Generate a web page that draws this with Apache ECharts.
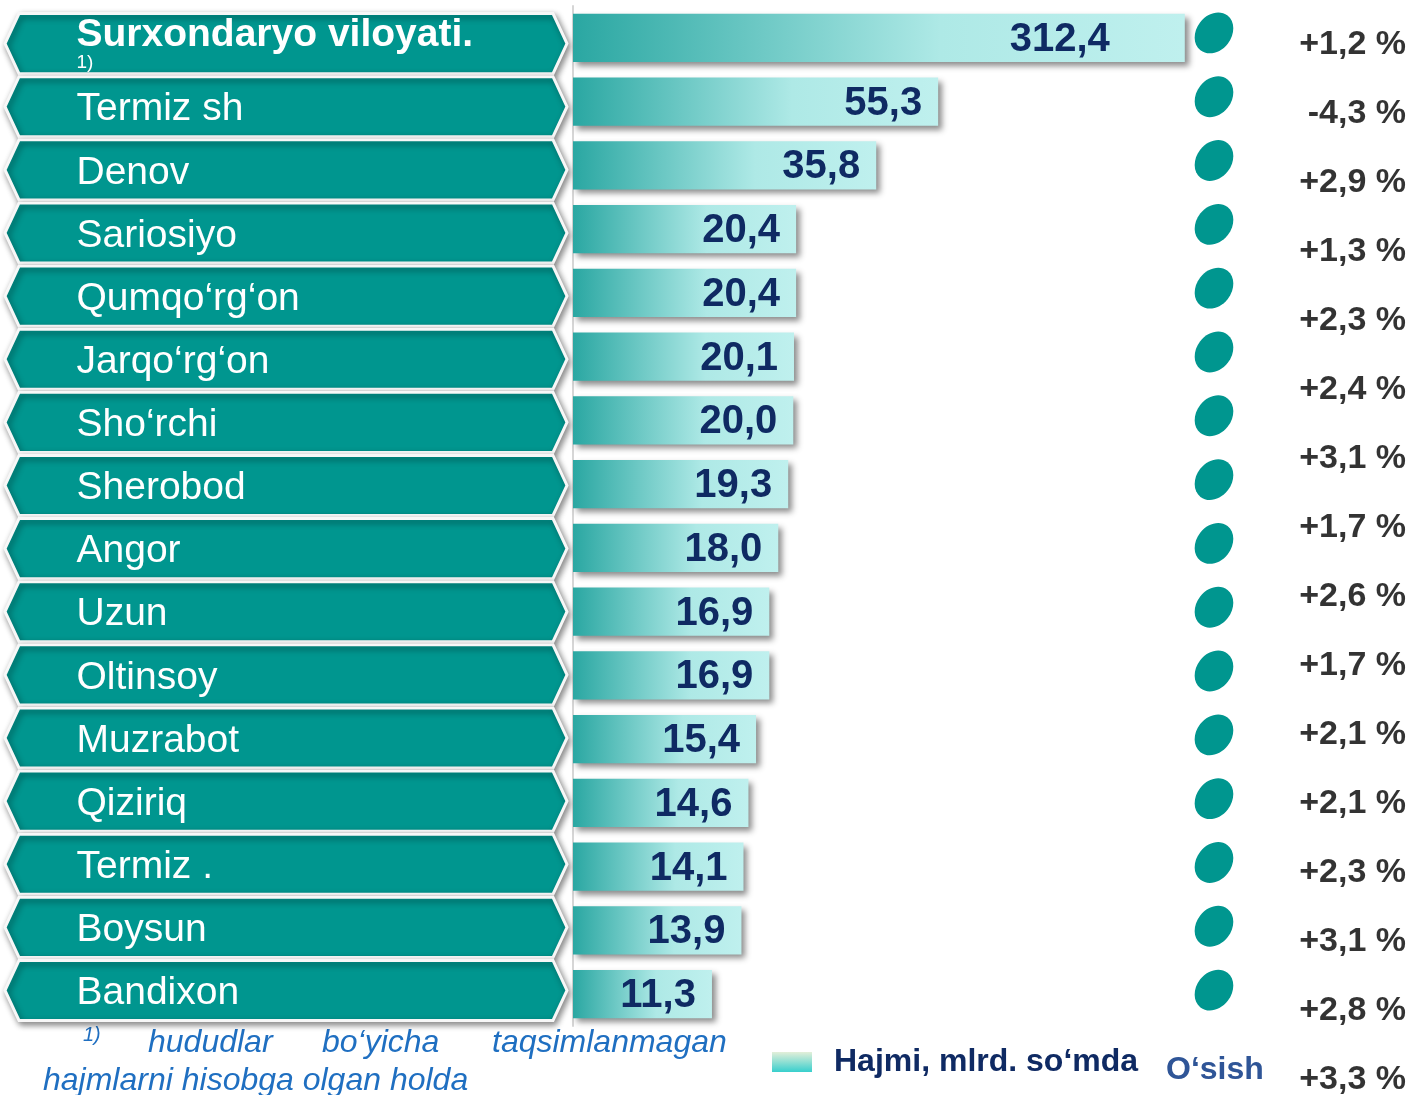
<!DOCTYPE html>
<html>
<head>
<meta charset="utf-8">
<script src="https://cdn.jsdelivr.net/npm/echarts@6/dist/echarts.min.js"></script>
<style>
  html, body { margin: 0; padding: 0; background: #fff; }
  #chart { width: 1411px; height: 1095px; }
</style>
</head>
<body>
<div id="chart"></div>
<script>
var regions = ['Surxondaryo viloyati.', 'Termiz sh', 'Denov', 'Sariosiyo', 'Qumqo‘rg‘on', 'Jarqo‘rg‘on',
  'Sho‘rchi', 'Sherobod', 'Angor', 'Uzun', 'Oltinsoy', 'Muzrabot', 'Qiziriq', 'Termiz .', 'Boysun', 'Bandixon']
var volumes = [312.4, 55.3, 35.8, 20.4, 20.4, 20.1, 20.0, 19.3, 18.0, 16.9, 16.9, 15.4, 14.6, 14.1, 13.9, 11.3]
var growth = [1.2, -4.3, 2.9, 1.3, 2.3, 2.4, 3.1, 1.7, 2.6, 1.7, 2.1, 2.1, 2.3, 3.1, 2.8, 3.3]

var FONT = '"Liberation Sans", Arial, sans-serif'
var TEAL = '#00968f'
var NAVY = '#0f2a63'
// bars sit on a log axis, its min is where every bar starts
var X_MIN = 4.26
var X_MAX = 400

function fmt(v) {
  return v.toFixed(1).replace('.', ',')
}
function fmtGrowth(g) {
  return (g > 0 ? '+' : '') + fmt(g) + ' %'
}

var barGradient = new echarts.graphic.LinearGradient(0, 0, 1, 0, [
  { offset: 0, color: '#2aa7a2' },
  { offset: 0.6, color: '#aee9e6' },
  { offset: 1, color: '#bff0ee' }
])
var legendGradient = new echarts.graphic.LinearGradient(0, 0, 0, 1, [
  { offset: 0, color: '#e3efd9' },
  { offset: 1, color: '#38cfcd' }
])

var ellipse = 'path://M50,0 C77.6,0 100,22.4 100,50 C100,77.6 77.6,100 50,100 C22.4,100 0,77.6 0,50 C0,22.4 22.4,0 50,0 Z'

function renderBanner(params, api) {
  var i = params.dataIndex
  var l = api.coord([0, i])
  var r = api.coord([1, i])
  var h = api.size([0, 1])[1] - 3
  var cy = l[1]
  var t = cy - h / 2
  var b = cy + h / 2
  var n = 14
  var text = i === 0 ? '{top|' + regions[i] + '}\n{note|1)}' : regions[i]
  return {
    type: 'polygon',
    shape: {
      points: [[l[0], cy], [l[0] + n, t], [r[0] - n, t], [r[0], cy], [r[0] - n, b], [l[0] + n, b]]
    },
    style: {
      fill: TEAL,
      stroke: '#f7f7f7',
      lineWidth: 3,
      shadowBlur: 6,
      shadowColor: 'rgba(0,0,0,0.45)',
      shadowOffsetX: 2,
      shadowOffsetY: 3
    },
    textContent: {
      style: {
        text: text,
        fill: '#fff',
        fontSize: 39,
        fontFamily: FONT,
        rich: {
          top: { fontSize: 39, fontWeight: 'bold', lineHeight: 37, fontFamily: FONT, fill: '#fff' },
          note: { fontSize: 19, lineHeight: 18, fontFamily: FONT, fill: '#fff' }
        }
      }
    },
    textConfig: { position: 'insideLeft', distance: 73, offset: i === 0 ? [0, 1] : [0, 3] }
  }
}

function renderBar(params, api) {
  var i = params.dataIndex
  var v = api.value(0)
  var start = api.coord([X_MIN, i])
  var end = api.coord([v, i])
  var h = api.size([0, 1])[1] * 0.755
  return {
    type: 'rect',
    shape: { x: start[0], y: end[1] - h / 2, width: end[0] - start[0], height: h },
    style: {
      fill: barGradient,
      shadowBlur: 6,
      shadowColor: 'rgba(0,0,0,0.45)',
      shadowOffsetX: 4,
      shadowOffsetY: 4
    },
    textContent: {
      style: { text: fmt(v), fill: NAVY, fontSize: 40, fontWeight: 'bold', fontFamily: FONT }
    },
    textConfig: { position: 'insideRight', distance: i === 0 ? 75 : 16, offset: [0, 2] }
  }
}

var chart = echarts.init(document.getElementById('chart'))

var option = {
  backgroundColor: '#fff',
  animation: false,
  grid: [
    { left: 5, width: 562, top: 12, height: 1010 }, // banners
    { left: 573, width: 647, top: 6, height: 1020 }, // bars
    { left: 1194, width: 40, top: 1, height: 1021 }, // dots
    { left: 1401, width: 12, top: 45, height: 1035 } // growth
  ],
  xAxis: [
    { gridIndex: 0, type: 'value', min: 0, max: 1, show: false },
    { gridIndex: 1, type: 'log', min: X_MIN, max: X_MAX, show: false },
    { gridIndex: 2, type: 'category', data: [''], show: false },
    { gridIndex: 3, type: 'value', min: 0, max: 1, show: false }
  ],
  yAxis: [
    { gridIndex: 0, type: 'category', data: regions, inverse: true, show: false },
    {
      gridIndex: 1,
      type: 'category',
      data: regions,
      inverse: true,
      axisLine: { show: true, lineStyle: { color: '#d6d6d6', width: 2 } },
      axisTick: { show: false },
      axisLabel: { show: false }
    },
    { gridIndex: 2, type: 'category', data: regions, inverse: true, show: false },
    { gridIndex: 3, type: 'category', data: regions, inverse: true, boundaryGap: false, show: false }
  ],
  legend: {
    left: 772,
    top: 1046,
    padding: 0,
    itemWidth: 40,
    itemHeight: 20,
    selectedMode: false,
    data: [{ name: 'Hajmi, mlrd. so‘mda', icon: 'rect', itemStyle: { color: legendGradient } }],
    textStyle: { fontSize: 32, fontWeight: 'bold', color: NAVY, fontFamily: FONT, padding: [0, 0, 0, 17] }
  },
  series: [
    {
      type: 'custom',
      name: 'banners',
      xAxisIndex: 0,
      yAxisIndex: 0,
      renderItem: renderBanner,
      data: regions.map(function (r) { return [1, r] }),
      silent: true
    },
    {
      type: 'custom',
      name: 'Hajmi, mlrd. so‘mda',
      xAxisIndex: 1,
      yAxisIndex: 1,
      renderItem: renderBar,
      encode: { x: 0, y: 1 },
      itemStyle: { color: barGradient },
      data: volumes.map(function (v, i) { return [v, regions[i]] })
    },
    {
      type: 'scatter',
      name: 'dots',
      xAxisIndex: 2,
      yAxisIndex: 2,
      symbol: ellipse,
      symbolSize: [35, 44],
      symbolRotate: -38,
      itemStyle: { color: TEAL, opacity: 1 },
      data: regions.map(function (r) { return ['', r] })
    },
    {
      type: 'scatter',
      name: 'O‘sish',
      xAxisIndex: 3,
      yAxisIndex: 3,
      symbolSize: 0,
      label: {
        show: true,
        position: 'left',
        distance: 0,
        formatter: function (p) { return fmtGrowth(growth[p.dataIndex]) },
        fontSize: 34,
        fontWeight: 'bold',
        color: '#000',
        fontFamily: FONT
      },
      data: growth.map(function (g, i) { return [0.5, regions[i]] })
    }
  ],
  graphic: [
    { type: 'text', left: 83, top: 1025, style: { text: '1)', fontSize: 20, fontStyle: 'italic', fill: '#1f6fc1', fontFamily: FONT } },
    { type: 'text', left: 148, top: 1027, style: { text: 'hududlar', fontSize: 32, fontStyle: 'italic', fill: '#1f6fc1', fontFamily: FONT } },
    { type: 'text', left: 322, top: 1027, style: { text: 'bo‘yicha', fontSize: 32, fontStyle: 'italic', fill: '#1f6fc1', fontFamily: FONT } },
    { type: 'text', left: 492, top: 1027, style: { text: 'taqsimlanmagan', fontSize: 32, fontStyle: 'italic', fill: '#1f6fc1', fontFamily: FONT } },
    { type: 'text', left: 43, top: 1065, style: { text: 'hajmlarni hisobga olgan holda', fontSize: 32, fontStyle: 'italic', fill: '#1f6fc1', fontFamily: FONT } },
    { type: 'text', left: 1166, top: 1054, style: { text: 'O‘sish', fontSize: 32, fontWeight: 'bold', fill: '#2f5597', fontFamily: FONT } }
  ]
}

chart.setOption(option)
</script>
</body>
</html>
